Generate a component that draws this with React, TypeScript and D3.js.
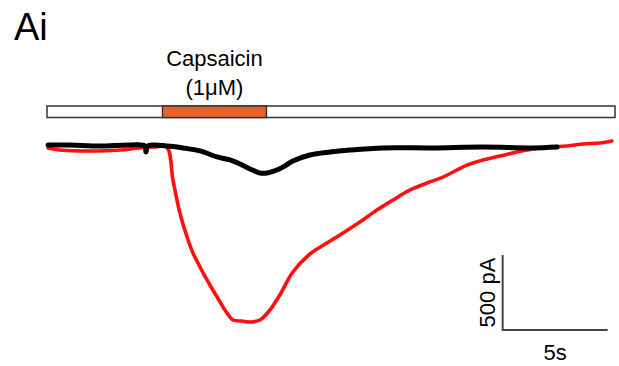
import React from 'react'
import * as d3 from 'd3'

// time (s) and current (pA, relative to baseline)
const redTime = [0.05, 0.6, 1.6, 2.5, 3.5, 4.4, 5.1, 5.7, 6.0, 6.33, 6.67, 6.95, 7.29, 7.62, 8.1, 8.57, 8.86, 9.29, 9.67, 10.14, 10.62, 11.1, 11.71, 12.52, 13.33, 14.1, 14.9, 15.71, 16.48, 17.29, 18.1, 18.86, 19.52, 20.0, 20.76, 21.57, 22.38, 23.14, 23.95, 24.76, 25.52, 26.33, 26.9]
const redCurrent = [-13, -27, -33, -33, -27, -13, -7, -7, -227, -447, -607, -713, -807, -893, -1007, -1113, -1160, -1167, -1173, -1160, -1093, -990, -840, -720, -647, -580, -507, -427, -360, -293, -247, -207, -160, -127, -93, -67, -40, -20, -7, 0, 13, 20, 33]

const blackTime = [0.05, 1.1, 2.5, 3.95, 4.67, 4.71, 4.81, 5.71, 6.48, 7.29, 8.1, 8.71, 9.19, 9.67, 10.14, 10.48, 10.95, 11.33, 11.71, 12.52, 13.48, 14.43, 16.0, 18.38, 20.76, 23.14, 24.29]
const blackCurrent = [7, 7, 0, 7, 0, -40, 0, 0, -13, -33, -73, -93, -120, -153, -180, -180, -160, -133, -100, -60, -40, -27, -13, -13, -7, -13, -7]

const recordEnd = 27.05
const drugLabel = ['Capsaicin', '(1μM)']
const drugStart = 5.5
const drugEnd = 10.45

const scaleTime = 5
const scaleCurrent = 500
const scaleBarT0 = 21.7
const scaleBarI0 = -1227

const W = 619
const H = 366
const font = '"Liberation Sans", Arial, sans-serif'

export default function App() {
  const x = d3.scaleLinear().domain([0, recordEnd]).range([47, 615])
  const y = d3.scaleLinear().domain([300, -1300]).range([101, 341])

  const line = d3.line<[number, number]>()
    .x(d => x(d[0]))
    .y(d => y(d[1]))
    .curve(d3.curveCatmullRom.alpha(0.5))

  const red = redTime.map((t, i) => [t, redCurrent[i]] as [number, number])
  const black = blackTime.map((t, i) => [t, blackCurrent[i]] as [number, number])

  const barTop = 106
  const barH = 11.5
  const sx0 = x(scaleBarT0)
  const sx1 = x(scaleBarT0 + scaleTime)
  const sy0 = y(scaleBarI0)
  const sy1 = y(scaleBarI0 + scaleCurrent)

  return (
    <svg width={W} height={H} style={{ position: 'absolute', left: 0, top: 0, background: '#fff' }} fontFamily={font}>
      <text x={14} y={40} fontSize={38}>Ai</text>

      {drugLabel.map((s, i) => (
        <text key={s} x={(x(drugStart) + x(drugEnd)) / 2} y={66 + i * 28.5} fontSize={22} textAnchor="middle">{s}</text>
      ))}

      <rect x={x(0)} y={barTop} width={x(recordEnd) - x(0)} height={barH} fill="#fff" stroke="#333" strokeWidth={1.5} />
      <rect x={x(drugStart)} y={barTop} width={x(drugEnd) - x(drugStart)} height={barH} fill="#ea6424" stroke="#333" strokeWidth={1.5} />

      <path d={line(red) ?? ''} fill="none" stroke="#ff1010" strokeWidth={3.6} strokeLinejoin="round" strokeLinecap="round" />
      <path d={line(black) ?? ''} fill="none" stroke="#000" strokeWidth={5} strokeLinejoin="round" strokeLinecap="round" />

      <path d={`M${sx0},${sy1}V${sy0}H${sx1}`} fill="none" stroke="#444" strokeWidth={2} />
      <text transform={`translate(${sx0 - 8},${(sy0 + sy1) / 2}) rotate(-90)`} fontSize={22} textAnchor="middle">{`${scaleCurrent} pA`}</text>
      <text x={(sx0 + sx1) / 2} y={sy0 + 30} fontSize={22} textAnchor="middle">{`${scaleTime}s`}</text>
    </svg>
  )
}
